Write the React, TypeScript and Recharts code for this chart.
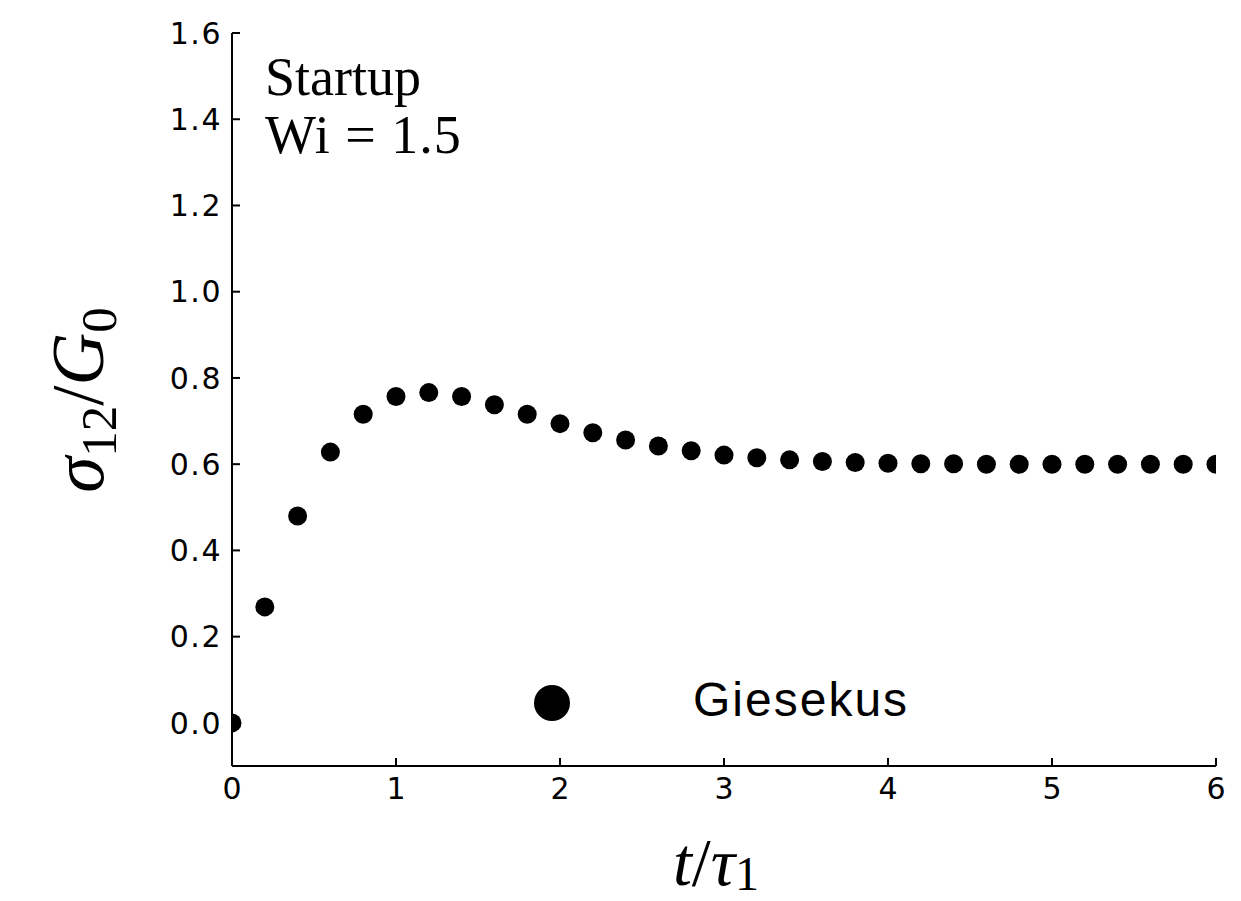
import React from 'react';
import { ScatterChart, Scatter, XAxis, YAxis, Legend, Customized } from 'recharts';

const tValues = [
  0, 0.2, 0.4, 0.6, 0.8, 1.0, 1.2, 1.4, 1.6, 1.8, 2.0, 2.2, 2.4, 2.6, 2.8, 3.0,
  3.2, 3.4, 3.6, 3.8, 4.0, 4.2, 4.4, 4.6, 4.8, 5.0, 5.2, 5.4, 5.6, 5.8, 6.0,
];
const sigmaValues = [
  0.0, 0.269, 0.48, 0.628, 0.716, 0.757, 0.766, 0.757, 0.738, 0.716, 0.694, 0.673, 0.656, 0.642, 0.631, 0.621,
  0.615, 0.61, 0.606, 0.604, 0.602, 0.601, 0.601, 0.6, 0.6, 0.6, 0.6, 0.6, 0.6, 0.6, 0.6,
];
const xTicks = [0, 1, 2, 3, 4, 5, 6];
const yTicks = [0, 0.2, 0.4, 0.6, 0.8, 1.0, 1.2, 1.4, 1.6];
const seriesName = 'Giesekus';
const annotationLines = ['Startup', 'Wi = 1.5'];

const data = tValues.map((t, i) => ({ t, s: sigmaValues[i] }));

const tickFont = '"DejaVu Sans", sans-serif';
const mathFont = '"Liberation Serif", "Times New Roman", serif';
const AXIS_W = 2;

const XTick = (p: any) => (
  <text
    x={p.x}
    y={p.y}
    dy="0.71em"
    textAnchor="middle"
    fontFamily={tickFont}
    fontSize={30}
    fill="#000"
  >
    {p.payload.value}
  </text>
);

const YTick = (p: any) => (
  <text
    x={p.x}
    y={p.y}
    dy="0.355em"
    textAnchor="end"
    fontFamily={tickFont}
    fontSize={30}
    letterSpacing={1.5}
    fill="#000"
  >
    {Number(p.payload.value).toFixed(1)}
  </text>
);

const Annotations = () => (
  <g>
    <text x={265} y={95} fontFamily={mathFont} fontSize={54} fill="#000">{annotationLines[0]}</text>
    <text x={265} y={153} fontFamily={mathFont} fontSize={54} letterSpacing={1} fill="#000">{annotationLines[1]}</text>
    <text x={716} y={885} textAnchor="middle" fontFamily={mathFont} fontSize={68} fill="#000">
      <tspan fontStyle="italic">t</tspan>
      <tspan>/</tspan>
      <tspan fontStyle="italic">τ</tspan>
      <tspan fontSize={48} dy={5}>1</tspan>
    </text>
    <text
      x={103}
      y={400}
      textAnchor="middle"
      transform="rotate(-90, 103, 400)"
      fontFamily={mathFont}
      fontSize={73}
      fill="#000"
    >
      <tspan fontStyle="italic">σ</tspan>
      <tspan fontSize={51} dy={13}>12</tspan>
      <tspan dy={-13}>/</tspan>
      <tspan fontStyle="italic">G</tspan>
      <tspan fontSize={51} dy={13}>0</tspan>
    </text>
  </g>
);

const LegendContent = () => (
  <svg width={440} height={70} style={{ display: 'block' }}>
    <circle cx={32} cy={33} r={18} fill="#000" />
    <text x={173} y={46} fontFamily='"Liberation Sans", Arial, sans-serif' fontSize={48} letterSpacing={2} fill="#000">
      {seriesName}
    </text>
  </svg>
);

export default function App() {
  return (
    <div style={{ position: 'absolute', left: 0, top: 0, width: 1241, height: 901, background: '#fff' }}>
      <ScatterChart width={1241} height={901} margin={{ top: 33, right: 25, left: 0, bottom: 0 }}>
        <XAxis
          xAxisId="bottom"
          dataKey="t"
          type="number"
          domain={[0, 6]}
          ticks={xTicks}
          allowDataOverflow
          orientation="bottom"
          height={135}
          tickSize={-8}
          tickMargin={20}
          stroke="#000"
          strokeWidth={AXIS_W}
          tick={<XTick />}
          tickLine={{ stroke: '#000', strokeWidth: AXIS_W }}
          interval={0}
        />
        <XAxis
          xAxisId="top"
          type="number"
          domain={[0, 6]}
          ticks={xTicks}
          allowDataOverflow
          orientation="top"
          height={0}
          tickSize={-8}
          tick={false}
          stroke="#000"
          strokeWidth={AXIS_W}
          tickLine={{ stroke: '#000', strokeWidth: AXIS_W }}
        />
        <YAxis
          yAxisId="left"
          dataKey="s"
          type="number"
          domain={[-0.1, 1.6]}
          ticks={yTicks}
          allowDataOverflow
          orientation="left"
          width={232}
          tickSize={-8}
          tickMargin={18}
          stroke="#000"
          strokeWidth={AXIS_W}
          tick={<YTick />}
          tickLine={{ stroke: '#000', strokeWidth: AXIS_W }}
          interval={0}
        />
        <YAxis
          yAxisId="right"
          type="number"
          domain={[-0.1, 1.6]}
          ticks={yTicks}
          allowDataOverflow
          orientation="right"
          width={0}
          tickSize={-8}
          tick={false}
          stroke="#000"
          strokeWidth={AXIS_W}
          tickLine={{ stroke: '#000', strokeWidth: AXIS_W }}
        />
        <Scatter
          name={seriesName}
          data={data}
          xAxisId="bottom"
          yAxisId="left"
          fill="#000"
          shape={(p: any) => <circle cx={p.cx} cy={p.cy} r={9.5} fill="#000" />}
          isAnimationActive={false}
        />
        <Legend
          layout="horizontal"
          verticalAlign="middle"
          align="center"
          content={() => <LegendContent />}
          wrapperStyle={{ left: 520, top: 670, width: 440, height: 70 }}
        />
        <Customized component={Annotations} />
      </ScatterChart>
    </div>
  );
}
